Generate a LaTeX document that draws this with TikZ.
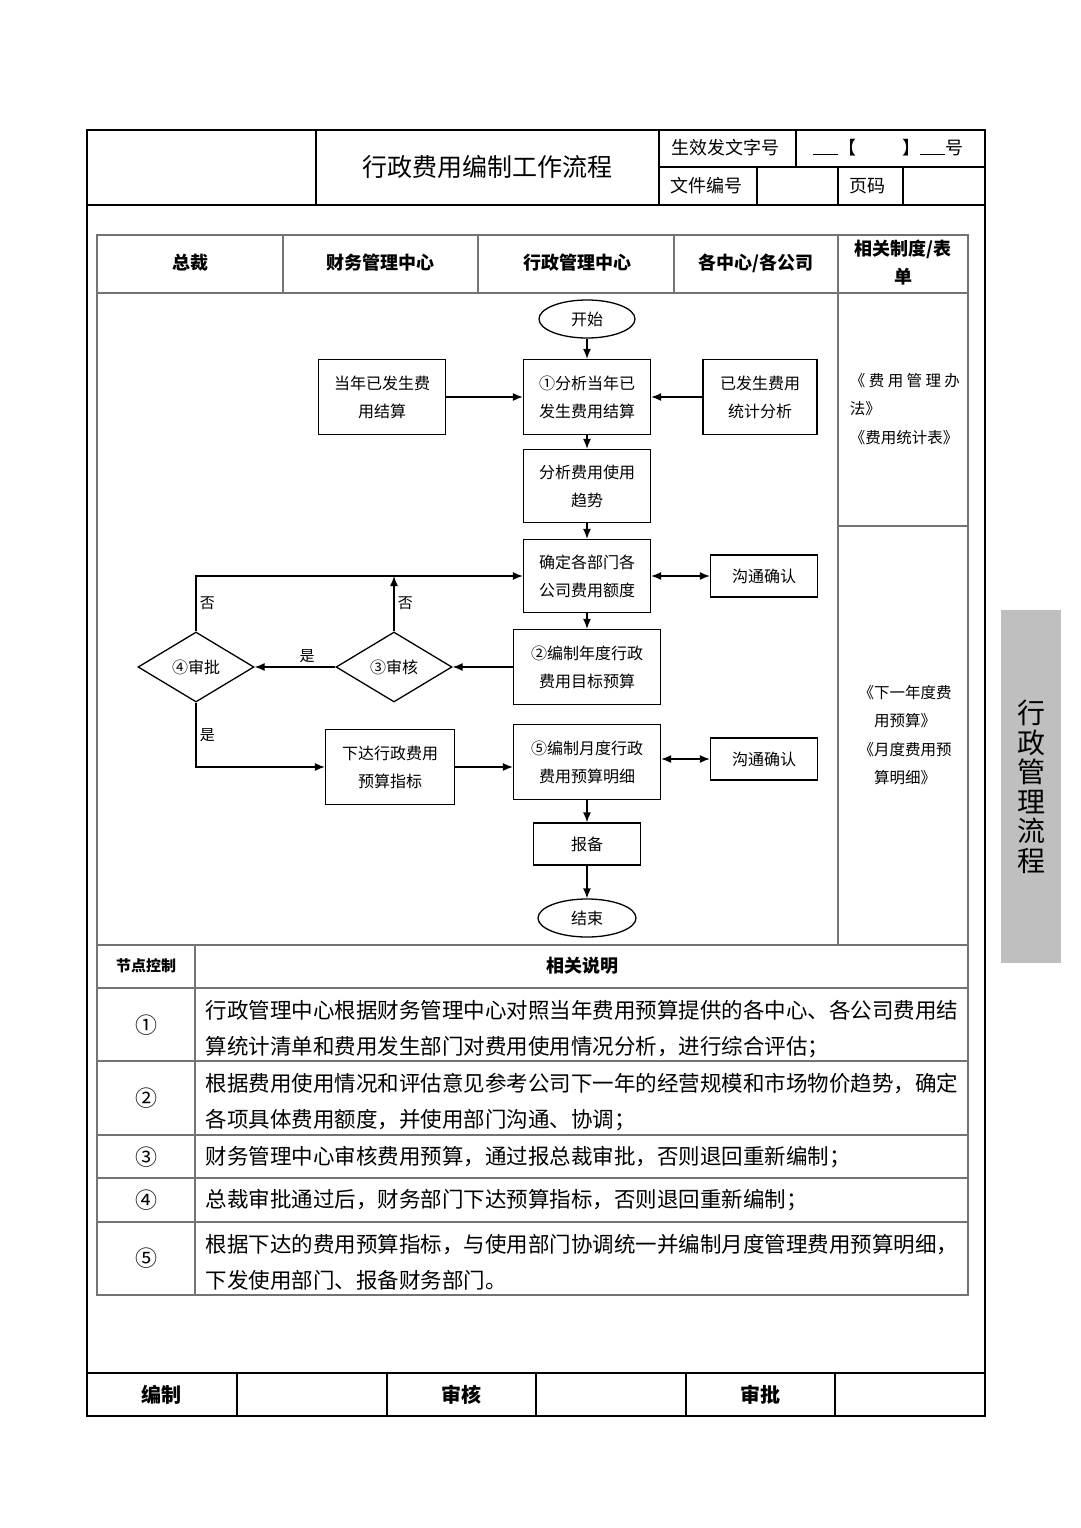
\documentclass[tikz,border=0pt]{standalone}
\usepackage{fontspec}
\setmainfont{Noto Sans CJK SC}
\usetikzlibrary{shapes.geometric}
\usetikzlibrary{arrows.meta}

\begin{document}
\begin{tikzpicture} [x=1pt, y=-1pt, line width=1.3pt, >={Latex[length=10pt,width=8pt]},
  frame/.style={line width=1.6pt},
  grid/.style={line width=1.1pt, draw=black!55},
  box/.style={draw, minimum width=127pt, minimum height=75pt, inner sep=0pt, align=center, font=\fontsize{16}{28}\selectfont},
  talk/.style={box, minimum width=107pt, minimum height=42pt},
  term/.style={draw, ellipse, minimum width=96pt, minimum height=38pt, inner sep=0pt, font=\fontsize{16}{16}\selectfont},
  dec/.style={draw, diamond, aspect=1.66, minimum width=116pt, minimum height=70pt, inner sep=0pt, font=\fontsize{16}{16}\selectfont},
  lbl/.style={font=\fontsize{15}{15}\selectfont},
  hd/.style={font=\fontsize{18}{18}\selectfont},
  lane/.style={font=\bfseries\fontsize{18}{28}\selectfont, align=center},
  txt/.style={anchor=west, align=left, font=\fontsize{21.5}{36}\selectfont},
  num/.style={font=\fontsize{22}{22}\selectfont},
  note/.style={font=\fontsize{15.5}{28.5}\selectfont}]

\useasboundingbox (0,0) rectangle (1080,1528);

% header
\draw[frame] (87,130) rectangle (985,1416);
\draw[frame] (87,205) -- (985,205);
\draw[frame] (316,130) -- (316,205);
\draw[frame] (659,130) -- (659,205);
\draw[frame] (659,167) -- (985,167);
\draw[frame] (796,130) -- (796,167);
\foreach \x in {757,838,903}
  \draw[frame] (\x,167) -- (\x,205);

\node [font=\fontsize{25}{25}\selectfont] (title) at (487,167) {行政费用编制工作流程};
\node [hd] (docno) at (725,148) {生效发文字号};
\node [hd] (docnoval) at (888,148) {\rule{25pt}{0.8pt}【\hspace{46pt}】\rule{25pt}{0.8pt}号};
\node [hd] (fileno) at (706,186) {文件编号};
\node [hd] (page) at (867,186) {页码};

% table
\draw[grid] (97,235) rectangle (968,1295);
\draw[grid] (97,293) -- (968,293);
\foreach \x in {283,478,674}
  \draw[grid] (\x,235) -- (\x,293);
\draw[grid] (838,235) -- (838,945);
\draw[grid] (838,526) -- (968,526);
\draw[grid] (97,945) -- (968,945);
\foreach \y in {988,1061,1135,1178,1222}
  \draw[grid] (97,\y) -- (968,\y);
\draw[grid] (195,945) -- (195,1295);

\node [lane] (ceo) at (190,263) {总裁};
\node [lane] (fin) at (380,263) {财务管理中心};
\node [lane] (adm) at (577,263) {行政管理中心};
\node [lane] (sub) at (756,263) {各中心/各公司};
\node [lane] (rules) at (903,263) {相关制度/表\\单};

\node [note, align=left, anchor=west] (rules1) at (846,409)
  {\makebox[110pt][s]{《\hfill{}费\hfill{}用\hfill{}管\hfill{}理\hfill{}办}\\法》\\《费用统计表》};
\node [note, align=center] (rules2) at (905,735) {《下一年度费\\用预算》\\《月度费用预\\算明细》};

% flow
\node [term] (start) at (587,319) {开始};
\node [box] (s1) at (587,397) {①分析当年已\\发生费用结算};
\node [box] (used) at (382,397) {当年已发生费\\用结算};
\node [box, minimum width=114pt] (stat) at (760,397) {已发生费用\\统计分析};
\node [box, minimum height=73pt] (trend) at (587,486) {分析费用使用\\趋势};
\node [box, minimum height=73pt] (quota) at (587,576) {确定各部门各\\公司费用额度};
\node [talk] (talk1) at (764,576) {沟通确认};
\node [box, minimum width=147pt] (s2) at (587,667) {②编制年度行政\\费用目标预算};
\node [dec] (s3) at (394,667) {③审核};
\node [dec] (s4) at (196,667) {④审批};
\node [box, minimum width=129pt] (issue) at (390,767) {下达行政费用\\预算指标};
\node [box, minimum width=147pt] (s5) at (587,762) {⑤编制月度行政\\费用预算明细};
\node [talk] (talk2) at (764,759) {沟通确认};
\node [talk] (file) at (587,844) {报备};
\node [term, minimum width=98pt] (end) at (587,918) {结束};

\draw[->] (start) -- (s1);
\draw[->] (used) -- (s1);
\draw[->] (stat) -- (s1);
\draw[->] (s1) -- (trend);
\draw[->] (trend) -- (quota);
\draw[<->] (quota) -- (talk1);
\draw[->] (quota) -- (s2);
\draw[->] (s2) -- (s3);
\draw[->] (s3) -- node[lbl, above, pos=0.35] {是} (s4);
\draw[->] (s3.north) -- node[lbl, right] {否} (s3.north |- quota.west);
\draw[->] (s4.north) |- node[lbl, right, pos=0.25] {否} (quota.west);
\draw[->] (s4.south) |- node[lbl, right, pos=0.25] {是} (issue.west);
\draw[->] (issue) -- (issue -| s5.west);
\draw[<->] (s5.east |- talk2) -- (talk2);
\draw[->] (s5) -- (file);
\draw[->] (file) -- (end);

% notes
\node [font=\bfseries\fontsize{15}{15}\selectfont] (ctrl) at (146,966) {节点控制};
\node [font=\bfseries\fontsize{18}{18}\selectfont] (desc) at (582,966) {相关说明};

\node [num] (n1) at (146,1025) {①};
\node [num] (n2) at (146,1098) {②};
\node [num] (n3) at (146,1157) {③};
\node [num] (n4) at (146,1200) {④};
\node [num] (n5) at (146,1258) {⑤};

\node [txt] (d1) at (202,1029) {行政管理中心根据财务管理中心对照当年费用预算提供的各中心、各公司费用结\\算统计清单和费用发生部门对费用使用情况分析，进行综合评估；};
\node [txt] (d2) at (202,1102) {根据费用使用情况和评估意见参考公司下一年的经营规模和市场物价趋势，确定\\各项具体费用额度，并使用部门沟通、协调；};
\node [txt] (d3) at (202,1157) {财务管理中心审核费用预算，通过报总裁审批，否则退回重新编制；};
\node [txt] (d4) at (202,1200) {总裁审批通过后，财务部门下达预算指标，否则退回重新编制；};
\node [txt] (d5) at (202,1262) {根据下达的费用预算指标，与使用部门协调统一并编制月度管理费用预算明细，\\下发使用部门、报备财务部门。};

% footer
\draw[frame] (87,1373) -- (985,1373);
\foreach \x in {237,387,536,686,835}
  \draw[frame] (\x,1373) -- (\x,1416);
\node [font=\bfseries\fontsize{20}{20}\selectfont] (made) at (161,1395) {编制};
\node [font=\bfseries\fontsize{20}{20}\selectfont] (check) at (461,1395) {审核};
\node [font=\bfseries\fontsize{20}{20}\selectfont] (appr) at (760,1395) {审批};

% side tab
\fill[black!25] (1001,610) rectangle (1061,963);
\node [align=center, font=\fontsize{28}{29.5}\selectfont] (tab) at (1031,787) {行\\政\\管\\理\\流\\程};

\end{tikzpicture}
\end{document}
